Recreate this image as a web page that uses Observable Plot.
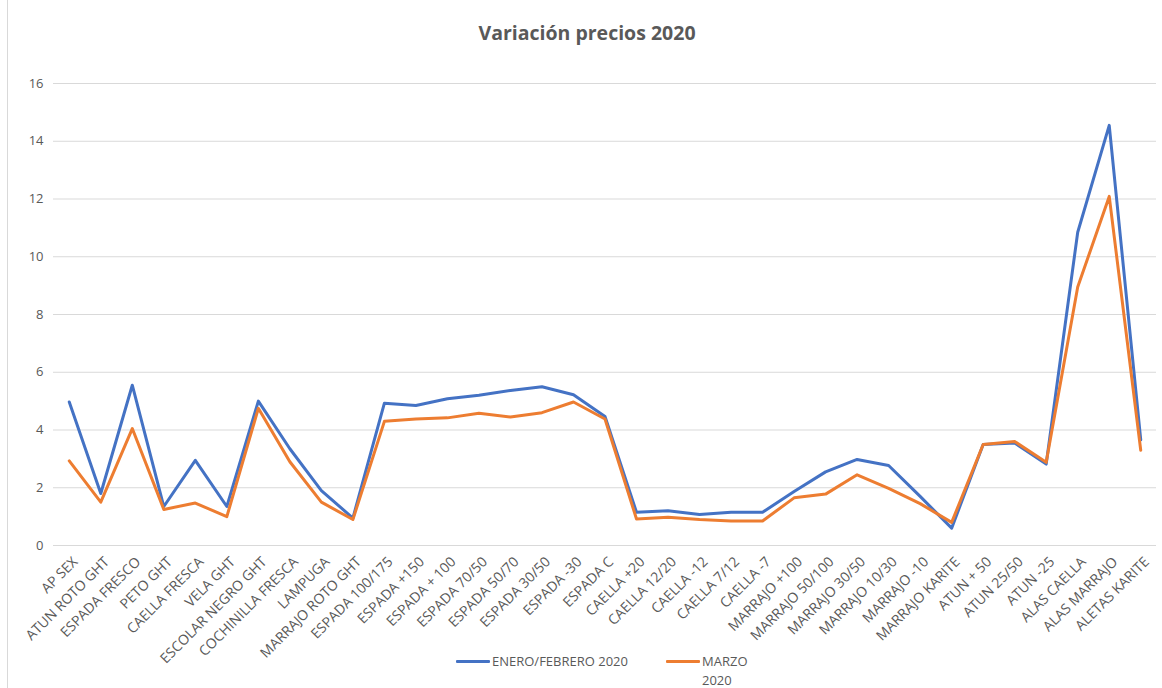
<!DOCTYPE html>
<html>
<head>
<meta charset="utf-8">
<script src="https://cdn.jsdelivr.net/npm/d3@7"></script>
<script src="https://cdn.jsdelivr.net/npm/@observablehq/plot@0.6"></script>
<style>
  body { margin: 0; background: #fff; }
  #wrap { position: relative; width: 1162px; height: 688px; overflow: hidden; font-family: "Open Sans", sans-serif; color: #595959; }
  #frame { position: absolute; left: 7px; top: 0; width: 1px; height: 688px; background: #d9d9d9; }
  #title { position: absolute; top: 21px; left: 6px; width: 1162px; text-align: center; font-weight: bold; font-size: 19.5px; line-height: 24px; }
  #chart { position: absolute; top: 55px; left: 0; }
  .lg { position: absolute; font-size: 13px; line-height: 19px; }
  .sw { position: absolute; height: 3px; width: 34px; border-radius: 1px; }
</style>
</head>
<body>
<div id="wrap">
  <div id="frame"></div>
  <div id="title">Variación precios 2020</div>
  <div id="chart"></div>
  <div id="legend"></div>
</div>
<script>
const categories = [
  "AP SEX", "ATUN ROTO GHT", "ESPADA FRESCO", "PETO GHT", "CAELLA FRESCA", "VELA GHT",
  "ESCOLAR NEGRO GHT", "COCHINILLA FRESCA", "LAMPUGA", "MARRAJO ROTO GHT",
  "ESPADA 100/175", "ESPADA +150", "ESPADA + 100", "ESPADA 70/50", "ESPADA 50/70",
  "ESPADA 30/50", "ESPADA -30", "ESPADA C", "CAELLA +20", "CAELLA 12/20", "CAELLA -12",
  "CAELLA 7/12", "CAELLA -7", "MARRAJO +100", "MARRAJO 50/100", "MARRAJO 30/50",
  "MARRAJO 10/30", "MARRAJO -10", "MARRAJO KARITE", "ATUN + 50", "ATUN 25/50",
  "ATUN -25", "ALAS CAELLA", "ALAS MARRAJO", "ALETAS KARITE"
];
const eneroFebrero = [
  4.97, 1.8, 5.55, 1.35, 2.95, 1.35, 5.0, 3.35, 1.9, 0.95,
  4.93, 4.85, 5.08, 5.2, 5.37, 5.5, 5.22, 4.47, 1.15, 1.2, 1.07,
  1.15, 1.15, 1.87, 2.55, 2.98, 2.77, 1.7, 0.6, 3.5, 3.55,
  2.82, 10.85, 14.55, 3.66
];
const marzo = [
  2.93, 1.5, 4.05, 1.25, 1.47, 1.0, 4.75, 2.9, 1.5, 0.9,
  4.3, 4.38, 4.42, 4.58, 4.45, 4.6, 4.97, 4.38, 0.92, 0.98, 0.9,
  0.85, 0.85, 1.65, 1.78, 2.45, 1.98, 1.45, 0.8, 3.5, 3.6,
  2.88, 8.95, 12.09, 3.3
];
const seriesNames = ["ENERO/FEBRERO 2020", "MARZO 2020"];
const seriesColors = ["#4472C4", "#ED7D31"];
const yTicks = [0, 2, 4, 6, 8, 10, 12, 14, 16];

const rows = [];
categories.forEach((c, i) => {
  rows.push({cat: c, series: seriesNames[0], value: eneroFebrero[i]});
});
categories.forEach((c, i) => {
  rows.push({cat: c, series: seriesNames[1], value: marzo[i]});
});

const plot = Plot.plot({
  width: 1162,
  height: 600,
  marginTop: 28,
  marginBottom: 110,
  marginLeft: 53,
  marginRight: 6,
  style: {color: "#595959", fontFamily: "'Open Sans', sans-serif", background: "transparent", overflow: "visible"},
  x: {type: "point", domain: categories, padding: 0.5, round: false},
  y: {domain: [0, 16]},
  color: {domain: seriesNames, range: seriesColors},
  marks: [
    Plot.gridY(yTicks, {stroke: "#d9d9d9", strokeOpacity: 1, strokeWidth: 1}),
    Plot.axisY(yTicks, {tickSize: 0, tickPadding: 10, fontSize: 13, label: null}),
    Plot.axisX({tickSize: 0, tickPadding: 14, dx: 6, tickRotate: -45, fontSize: 14, label: null}),
    Plot.line(rows, {x: "cat", y: "value", z: "series", stroke: "series", strokeWidth: 3, strokeLinejoin: "round", strokeLinecap: "round"})
  ]
});
document.getElementById("chart").appendChild(plot);

// legend
const lg = document.getElementById("legend");
const legendItems = [
  {left: 456, lines: ["ENERO/FEBRERO 2020"]},
  {left: 666, lines: ["MARZO", "2020"]}
];
legendItems.forEach((it, i) => {
  const sw = document.createElement("div");
  sw.className = "sw";
  sw.style.left = it.left + "px";
  sw.style.top = "660px";
  sw.style.background = seriesColors[i];
  lg.appendChild(sw);
  const t = document.createElement("div");
  t.className = "lg";
  t.style.left = (it.left + 36) + "px";
  t.style.top = "652px";
  t.innerHTML = it.lines.join("<br>");
  lg.appendChild(t);
});
</script>
</body>
</html>
